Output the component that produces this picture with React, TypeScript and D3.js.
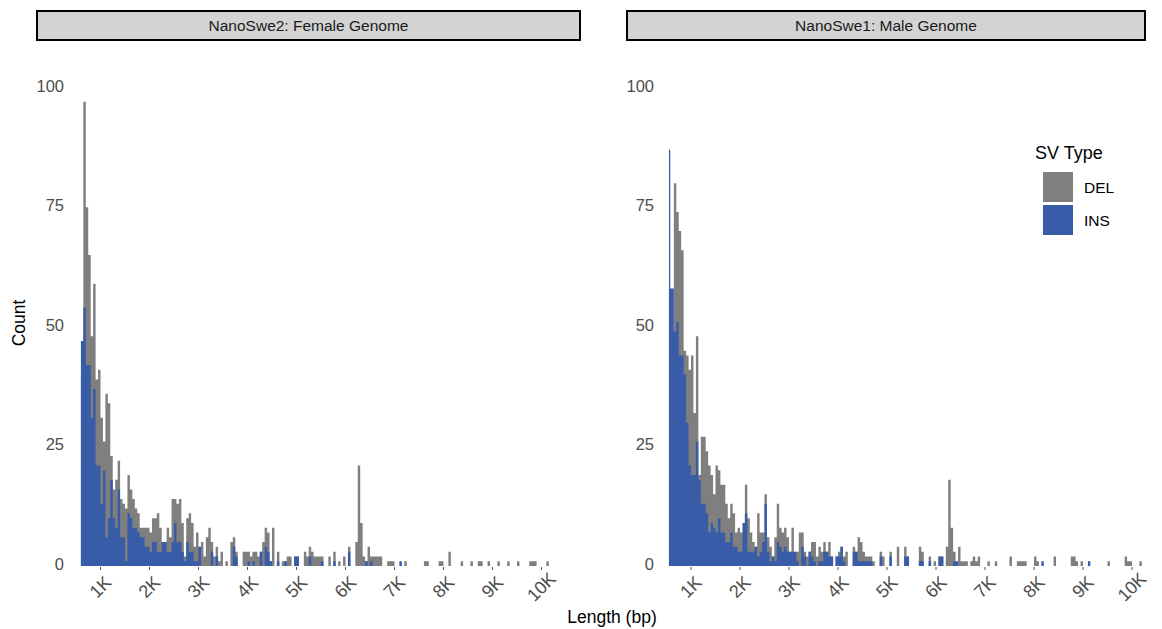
import React from "react";
import * as d3 from "d3";

// histogram bins: [binStart + k*binWidth, binStart + (k+1)*binWidth)
const binStart = 550;
const binWidth = 50;

const femaleDel = [
  0, 40, 97, 75, 65, 48, 59, 39, 41, 31,
  26, 36, 34, 23, 16, 18, 22, 14, 13, 12,
  19, 16, 14, 12, 11, 8, 8, 8, 8, 7,
  10, 10, 11, 8, 5, 5, 8, 6, 14, 14,
  13, 14, 9, 2, 10, 11, 9, 4, 7, 4,
  5, 2, 6, 8, 5, 2, 4, 1, 3, 0,
  1, 0, 5, 6, 3, 0, 0, 3, 3, 3,
  2, 3, 3, 2, 3, 5, 8, 7, 1, 8,
  0, 3, 0, 1, 1, 2, 2, 0, 2, 2,
  0, 0, 3, 2, 4, 3, 2, 2, 2, 2,
  0, 0, 2, 0, 3, 0, 1, 0, 2, 0,
  4, 0, 0, 5, 21, 9, 2, 1, 4, 2,
  2, 2, 2, 2, 0, 0, 1, 1, 1, 0,
  0, 0, 0, 1, 0, 0, 0, 0, 0, 0,
  0, 1, 1, 0, 0, 0, 0, 1, 1, 0,
  0, 3, 0, 0, 0, 0, 1, 0, 0, 0,
  1, 0, 0, 1, 1, 0, 0, 1, 0, 0,
  0, 1, 0, 0, 0, 1, 0, 0, 0, 1,
  0, 0, 0, 0, 1, 1, 1, 0, 0, 0,
  0, 1, 0,
];

const femaleIns = [
  0, 47, 54, 42, 42, 31, 37, 21, 21, 13,
  20, 6, 10, 18, 10, 8, 16, 6, 6, 1,
  11, 10, 8, 8, 7, 6, 6, 4, 4, 3,
  5, 5, 3, 3, 5, 5, 3, 3, 5, 9,
  5, 5, 3, 1, 5, 3, 3, 1, 1, 4,
  0, 0, 0, 0, 3, 0, 2, 0, 0, 0,
  0, 0, 0, 4, 2, 0, 0, 0, 0, 1,
  0, 1, 0, 0, 3, 0, 4, 3, 1, 0,
  0, 1, 0, 0, 1, 0, 0, 0, 2, 2,
  0, 0, 0, 0, 2, 0, 0, 0, 0, 1,
  0, 0, 0, 0, 1, 0, 0, 0, 0, 0,
  3, 0, 0, 0, 0, 0, 0, 1, 0, 1,
  0, 0, 0, 0, 0, 0, 0, 0, 0, 0,
  0, 1, 0, 0, 0, 0, 0, 0, 0, 0,
];

const maleDel = [
  0, 40, 80, 74, 70, 66, 45, 44, 41, 44,
  32, 48, 19, 27, 27, 24, 21, 19, 15, 21,
  20, 17, 17, 13, 10, 13, 11, 7, 8, 7,
  7, 17, 10, 7, 5, 4, 11, 7, 7, 15,
  6, 4, 2, 6, 13, 8, 7, 8, 6, 3,
  8, 3, 3, 7, 7, 3, 2, 3, 5, 5,
  2, 4, 3, 5, 3, 5, 2, 0, 2, 3,
  4, 2, 3, 0, 0, 4, 3, 6, 5, 3,
  2, 2, 2, 1, 0, 0, 3, 2, 0, 0,
  3, 0, 0, 4, 0, 0, 4, 2, 0, 0,
  0, 0, 4, 3, 0, 0, 2, 0, 1, 0,
  2, 2, 0, 4, 18, 8, 3, 0, 4, 1,
  1, 1, 0, 1, 2, 1, 2, 0, 0, 0,
  1, 0, 0, 1, 0, 0, 0, 0, 0, 2,
  0, 0, 1, 1, 1, 1, 0, 0, 0, 2,
  1, 0, 0, 0, 0, 0, 0, 2, 0, 0,
  0, 0, 0, 0, 2, 2, 1, 0, 1, 0,
  0, 0, 0, 0, 0, 0, 0, 0, 0, 1,
  0, 0, 0, 0, 0, 0, 2, 1, 1, 0,
  0, 0, 1,
];

const maleIns = [
  58, 58, 49, 51, 44, 44, 40, 30, 21, 19,
  19, 26, 18, 13, 13, 11, 7, 9, 8, 7,
  10, 7, 7, 5, 5, 7, 4, 4, 3, 3,
  9, 11, 3, 3, 3, 4, 2, 3, 5, 13,
  3, 1, 2, 1, 5, 4, 3, 4, 3, 3,
  3, 3, 1, 0, 4, 2, 0, 3, 2, 1,
  0, 1, 1, 3, 3, 2, 2, 0, 2, 2,
  4, 1, 0, 0, 0, 3, 3, 1, 1, 1,
  1, 1, 1, 0, 0, 0, 2, 0, 0, 0,
  2, 0, 0, 0, 0, 0, 2, 2, 0, 0,
  0, 0, 1, 1, 0, 0, 1, 0, 0, 0,
  2, 2, 0, 0, 0, 0, 1, 1, 0, 0,
  0, 0, 0, 0, 0, 0, 0, 0, 0, 0,
  0, 0, 0, 0, 0, 0, 0, 0, 0, 0,
  0, 0, 0, 0, 0, 0, 0, 0, 0, 0,
  0, 0, 1, 0, 0, 0, 0, 0, 0, 0,
  0, 0, 0, 0, 0, 0, 0, 0, 0, 0,
  0, 1, 0,
];

// narrow leading INS bar in the male panel
const maleInsSliver = [{ start: 550, end: 577, count: 87 }];

const xTicks = [1000, 2000, 3000, 4000, 5000, 6000, 7000, 8000, 9000, 10000];
const xTickLabels = ["1K", "2K", "3K", "4K", "5K", "6K", "7K", "8K", "9K", "10K"];
const yTicks = [0, 25, 50, 75, 100];
const svTypes = ["DEL", "INS"];
const svColors = ["#7f7f7f", "#385ca8"];

const W = 1162;
const H = 629;
const font = "'Liberation Sans', Arial, Helvetica, sans-serif";

const y = d3.scaleLinear().domain([0, 100]).range([566, 87.5]);

const panels = [
  {
    title: "NanoSwe2: Female Genome",
    del: femaleDel,
    ins: femaleIns,
    sliver: [] as typeof maleInsSliver,
    strip: [37, 580],
    x: d3.scaleLinear().domain([1000, 10000]).range([100.5, 541.5]),
    labelX: 64,
  },
  {
    title: "NanoSwe1: Male Genome",
    del: maleDel,
    ins: maleIns,
    sliver: maleInsSliver,
    strip: [627, 1145],
    x: d3.scaleLinear().domain([1000, 10000]).range([691, 1132]),
    labelX: 654,
  },
];

// one path per series, so neighbouring bins don't leave hairline seams
function barsPath(counts: number[], x: d3.ScaleLinear<number, number>) {
  const p = d3.path();
  counts.forEach((c, k) => {
    if (!c) return;
    const x0 = x(binStart + k * binWidth);
    const x1 = x(binStart + (k + 1) * binWidth);
    p.rect(x0, y(c), x1 - x0, y(0) - y(c));
  });
  return p.toString();
}

export default function App() {
  return (
    <svg width={W} height={H} style={{ position: "absolute", left: 0, top: 0, background: "#fff" }} fontFamily={font}>
      {panels.map((p, i) => (
        <g key={i}>
          <rect x={p.strip[0]} y={11} width={p.strip[1] - p.strip[0]} height={29} fill="#d3d3d3" stroke="#000" strokeWidth={2} />
          <text x={(p.strip[0] + p.strip[1]) / 2} y={25.5} textAnchor="middle" dominantBaseline="central" fontSize={15.5} fill="#1a1a1a">
            {p.title}
          </text>
          {yTicks.map((t) => (
            <text key={t} x={p.labelX} y={y(t) - 2} textAnchor="end" dominantBaseline="central" fontSize={16.5} fill="#4d4d4d">
              {t}
            </text>
          ))}
          {xTicks.map((t, j) => (
            <g key={t}>
              <line x1={p.x(t)} x2={p.x(t)} y1={567} y2={570} stroke="#555" strokeWidth={1} />
              <text
                transform={`translate(${p.x(t)},${587}) rotate(-45)`}
                textAnchor="middle"
                dominantBaseline="central"
                fontSize={18}
                fill="#4d4d4d"
              >
                {xTickLabels[j]}
              </text>
            </g>
          ))}
          <path d={barsPath(p.del, p.x)} fill={svColors[0]} />
          <path d={barsPath(p.ins, p.x)} fill={svColors[1]} />
          {p.sliver.map((s, j) => (
            <rect key={j} x={p.x(s.start)} y={y(s.count)} width={p.x(s.end) - p.x(s.start)} height={y(0) - y(s.count)} fill={svColors[1]} />
          ))}
        </g>
      ))}
      <text transform="translate(19,323) rotate(-90)" textAnchor="middle" dominantBaseline="central" fontSize={17.5} fill="#000">
        Count
      </text>
      <text x={612} y={617} textAnchor="middle" dominantBaseline="central" fontSize={17.5} fill="#000">
        Length (bp)
      </text>
      <g>
        <text x={1035} y={153} dominantBaseline="central" fontSize={18} fill="#000">
          SV Type
        </text>
        {svTypes.map((s, i) => (
          <g key={s}>
            <rect x={1043} y={172 + i * 33} width={30} height={30} fill={svColors[i]} />
            <text x={1084} y={187 + i * 33} dominantBaseline="central" fontSize={15.5} fill="#000">
              {s}
            </text>
          </g>
        ))}
      </g>
    </svg>
  );
}
